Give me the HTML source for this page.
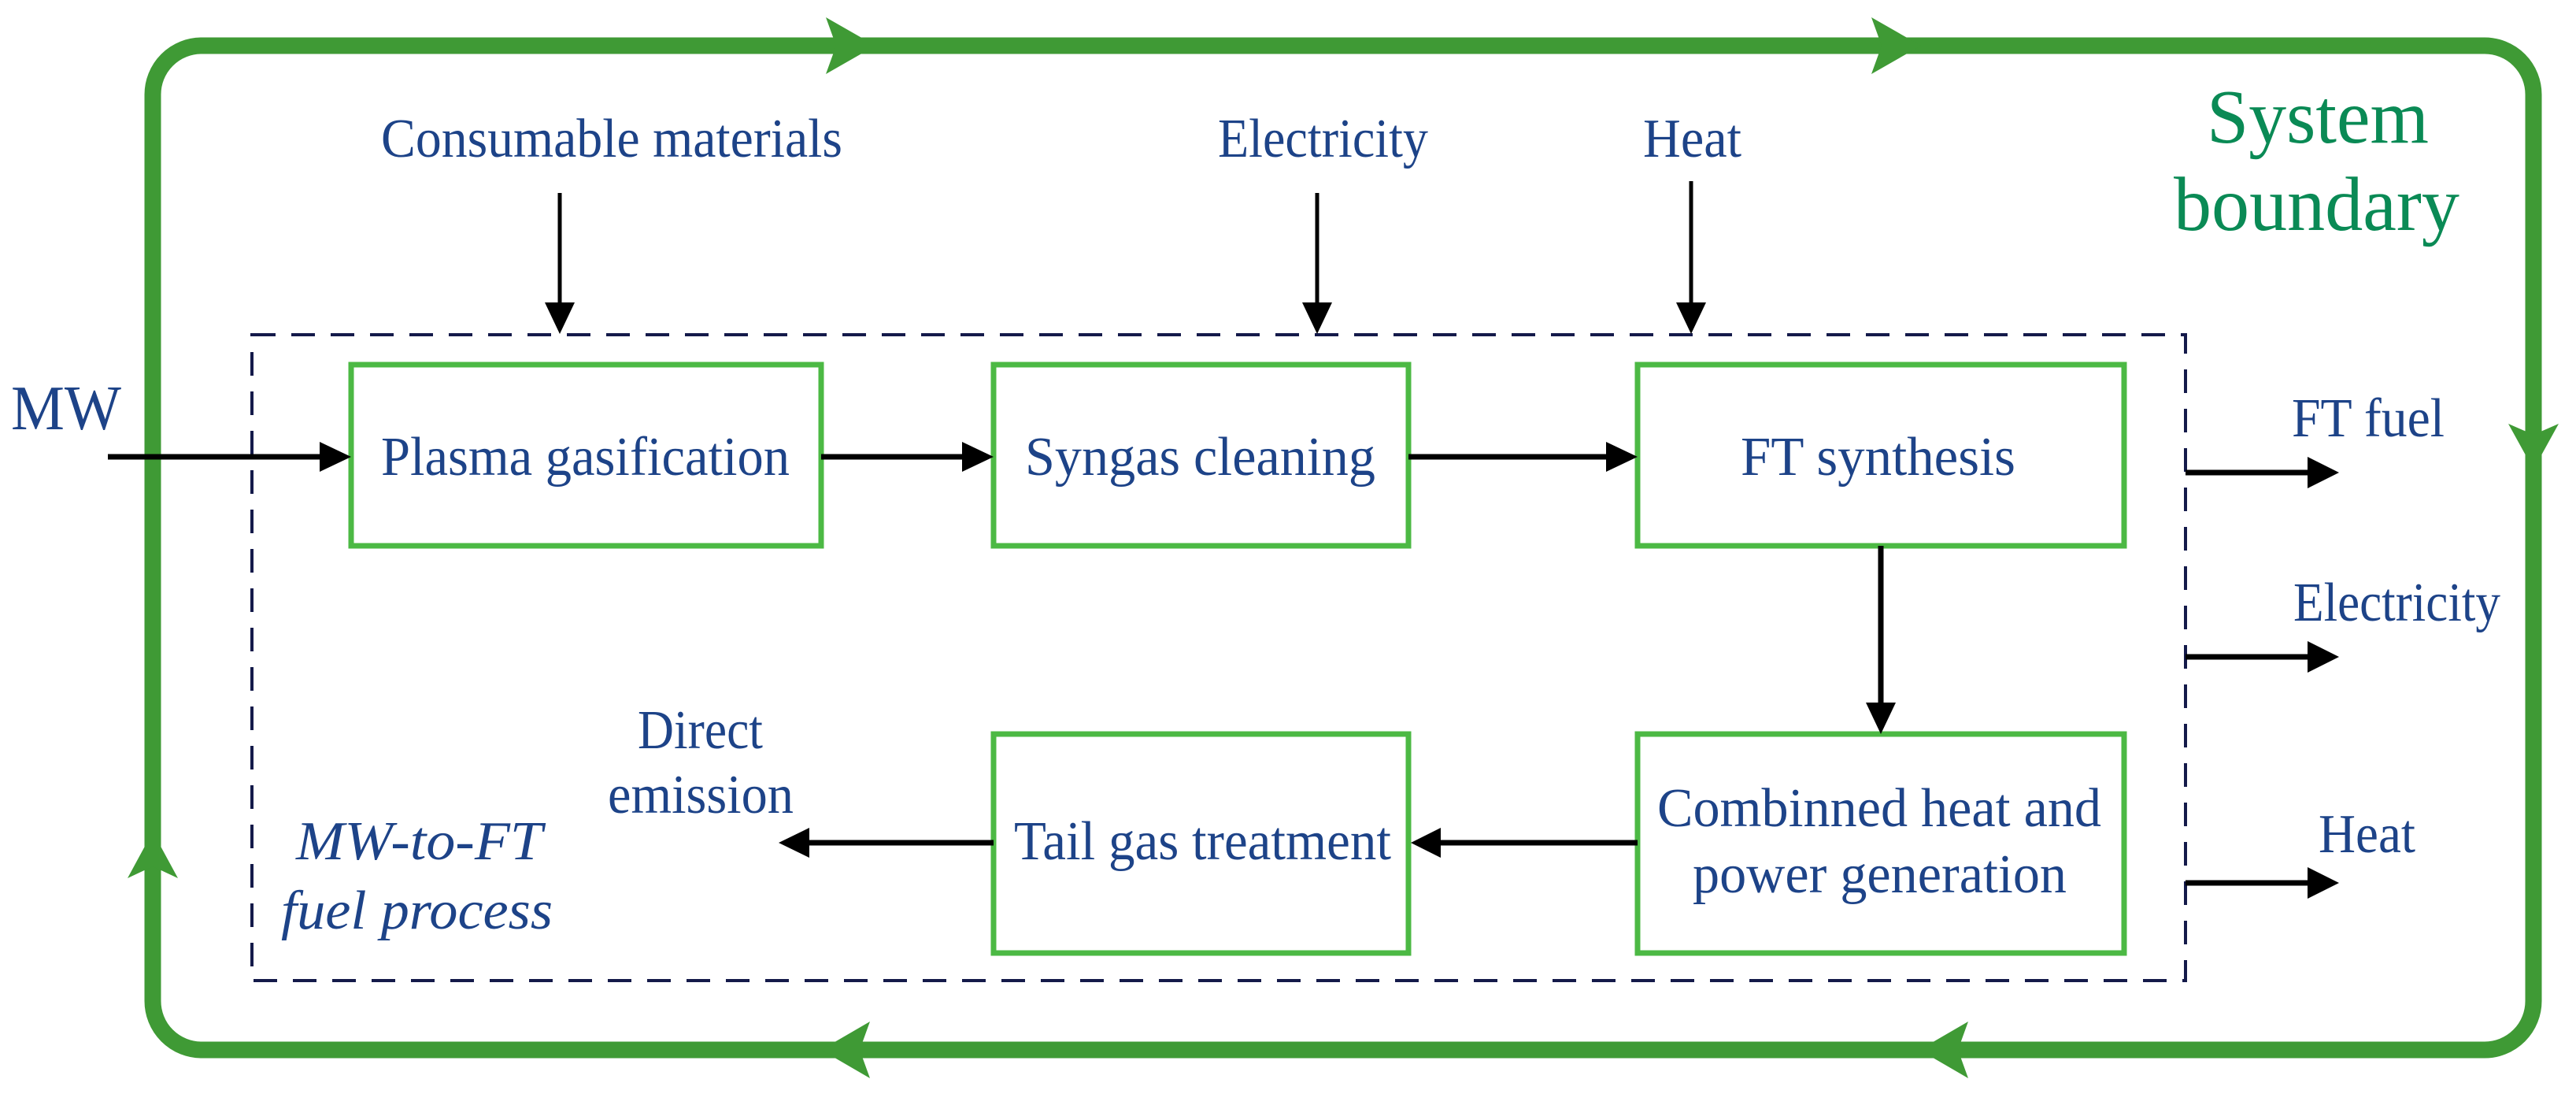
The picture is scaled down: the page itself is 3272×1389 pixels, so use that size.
<!DOCTYPE html>
<html><head><meta charset="utf-8"><style>
html,body{margin:0;padding:0;background:#fff;}
svg{display:block;}
text{font-family:"Liberation Serif","DejaVu Serif",serif;fill:#1d4388;font-size:70px;}
</style></head><body>
<svg width="3272" height="1389" viewBox="0 0 3272 1389" xmlns="http://www.w3.org/2000/svg">
<!-- system boundary -->
<rect x="194" y="58" width="3024" height="1275" rx="62" ry="62" fill="none" stroke="#3f9a35" stroke-width="21"/>
<g fill="#3f9a35">
<polygon points="1049,22 1112,58 1049,94 1062,58"/>
<polygon points="2377,22 2440,58 2377,94 2390,58"/>
<polygon points="3186,538 3218,596 3250,538 3218,552"/>
<polygon points="162,1115 194,1056 226,1115 194,1100"/>
<polygon points="2500,1297 2438,1333 2500,1369 2487,1333"/>
<polygon points="1105,1297 1043,1333 1105,1369 1092,1333"/>
</g>
<text x="2803" y="181" textLength="282" lengthAdjust="spacingAndGlyphs" style="fill:#0a8a55;font-size:98px">System</text>
<text x="2761" y="292" textLength="363" lengthAdjust="spacingAndGlyphs" style="fill:#0a8a55;font-size:98px">boundary</text>

<!-- dashed process box -->
<rect x="320" y="425" width="2456" height="820" fill="none" stroke="#141a4a" stroke-width="4" stroke-dasharray="30 20"/>

<!-- process boxes -->
<g fill="#fff" stroke="#4cb944" stroke-width="7">
<rect x="446" y="463" width="597" height="230"/>
<rect x="1262" y="463" width="527" height="230"/>
<rect x="2080" y="463" width="618" height="230"/>
<rect x="2080" y="932" width="618" height="278"/>
<rect x="1262" y="932" width="527" height="278"/>
</g>

<!-- black arrows -->
<g stroke="#000" stroke-width="7" fill="none">
<line x1="137" y1="580" x2="412" y2="580"/>
<line x1="1043" y1="580" x2="1228" y2="580"/>
<line x1="1789" y1="580" x2="2046" y2="580"/>
<line x1="2389" y1="693" x2="2389" y2="895"/>
<line x1="2080" y1="1070" x2="1825" y2="1070"/>
<line x1="1262" y1="1070" x2="1025" y2="1070"/>
<line x1="2776" y1="600" x2="2936" y2="600"/>
<line x1="2776" y1="834" x2="2934" y2="834"/>
<line x1="2776" y1="1121" x2="2934" y2="1121"/>
</g>
<g stroke="#000" stroke-width="5">
<line x1="711" y1="245" x2="711" y2="390"/>
<line x1="1673" y1="245" x2="1673" y2="390"/>
<line x1="2148" y1="230" x2="2148" y2="390"/>
</g>
<g fill="#000">
<polygon points="406,561 446,580 406,599"/>
<polygon points="1222,561 1262,580 1222,599"/>
<polygon points="2040,561 2080,580 2040,599"/>
<polygon points="2370,892 2389,932 2408,892"/>
<polygon points="1830,1051 1792,1070 1830,1089"/>
<polygon points="1028,1051 989,1070 1028,1089"/>
<polygon points="2931,580 2971,600 2931,620"/>
<polygon points="2931,814 2971,834 2931,854"/>
<polygon points="2931,1101 2971,1121 2931,1141"/>
<polygon points="692,384 711,424 730,384"/>
<polygon points="1654,384 1673,424 1692,384"/>
<polygon points="2129,384 2148,424 2167,384"/>
</g>

<!-- labels -->
<text x="484" y="199" textLength="586" lengthAdjust="spacingAndGlyphs">Consumable materials</text>
<text x="1547" y="199" textLength="267" lengthAdjust="spacingAndGlyphs">Electricity</text>
<text x="2087" y="199" textLength="125" lengthAdjust="spacingAndGlyphs">Heat</text>
<text x="14" y="545" textLength="140" lengthAdjust="spacingAndGlyphs" style="font-size:80px">MW</text>
<text x="484" y="603" textLength="519" lengthAdjust="spacingAndGlyphs">Plasma gasification</text>
<text x="1302" y="603" textLength="445" lengthAdjust="spacingAndGlyphs">Syngas cleaning</text>
<text x="2211" y="603" textLength="349" lengthAdjust="spacingAndGlyphs">FT synthesis</text>
<text x="2911" y="554" textLength="194" lengthAdjust="spacingAndGlyphs">FT fuel</text>
<text x="2913" y="788" textLength="263" lengthAdjust="spacingAndGlyphs">Electricity</text>
<text x="2945" y="1082" textLength="123" lengthAdjust="spacingAndGlyphs">Heat</text>
<text x="2105" y="1049" textLength="564" lengthAdjust="spacingAndGlyphs">Combinned heat and</text>
<text x="2150" y="1133" textLength="475" lengthAdjust="spacingAndGlyphs">power generation</text>
<text x="1288" y="1091" textLength="479" lengthAdjust="spacingAndGlyphs">Tail gas treatment</text>
<text x="810" y="950" textLength="159" lengthAdjust="spacingAndGlyphs">Direct</text>
<text x="772" y="1032" textLength="236" lengthAdjust="spacingAndGlyphs">emission</text>
<text x="376" y="1091" textLength="313" lengthAdjust="spacingAndGlyphs" style="font-style:italic">MW-to-FT</text>
<text x="357" y="1179" textLength="345" lengthAdjust="spacingAndGlyphs" style="font-style:italic">fuel process</text>
</svg>
</body></html>
